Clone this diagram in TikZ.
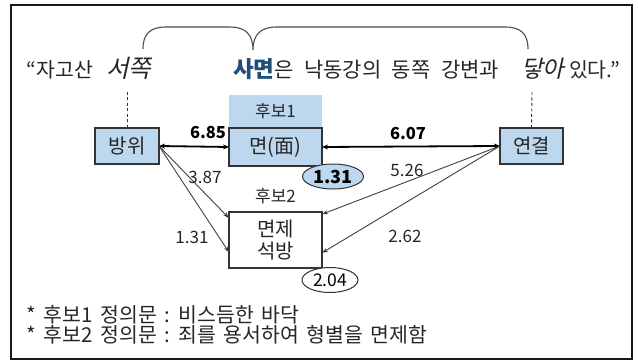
\documentclass[tikz,border=0pt]{standalone}
\usepackage{fontspec}
\setmainfont[WordSpace=1.6]{Noto Sans CJK KR}
\newfontfamily\krit[FakeSlant=0.22]{Noto Sans CJK KR}
\usetikzlibrary{arrows.meta,calc,shapes.geometric}
\definecolor{lblue}{HTML}{BDD7EE}
\definecolor{dblue}{HTML}{1F4E79}
\definecolor{edgec}{HTML}{333333}
\definecolor{linec}{HTML}{404040}
\begin{document}
\begin{tikzpicture}[x=1pt,y=-1pt,
  every node/.style={inner sep=0pt, outer sep=0pt},
  txt/.style={font=\fontsize{20.5}{23}\selectfont, text=black!85},
  lbl/.style={font=\fontsize{17}{20}\selectfont, text=black!85},
  blbl/.style={font=\fontsize{16.5}{20}\selectfont\bfseries, text=black},
  box/.style={draw=edgec, line width=1.1pt, font=\fontsize{20}{22}\selectfont, text=black!85},
  bluebox/.style={box, fill=lblue},
  ell/.style={ellipse, draw=edgec, line width=1pt, font=\fontsize{17.5}{20}\selectfont},
  thick arrow/.style={line width=1.8pt, black, {Stealth[length=6pt,width=5pt]}-{Stealth[length=6pt,width=5pt]}},
  thin arrow/.style={line width=0.9pt, linec, -{Stealth[length=6pt,width=4pt]}},
  dashline/.style={draw=black!80, line width=0.9pt, dashed, dash pattern=on 3pt off 2.5pt},
  bracec/.style={draw=black!70, line width=1.1pt}
]
\useasboundingbox (0,0) rectangle (638,361);
% frame
\draw[line width=2pt, black!90] (11,5) rectangle (632,359);

% sentence
\node[txt, anchor=base west] (t1) at (27,78) {“자고산};
\node[txt, anchor=base west, font=\fontsize{24.5}{27}\krit] (t2) at (106,78) {서쪽};
\node[txt, anchor=base west, font=\fontsize{21}{23}\selectfont] (t3) at (233,78) {{\fontsize{22.5}{24}\selectfont\bfseries\color{dblue}사면}은\hspace{10.5pt}낙동강의\hspace{10.5pt}동쪽\hspace{10.5pt}강변과};
\node[txt, anchor=base west, font=\fontsize{23.5}{25}\krit] (t4) at (521,78) {닿아};
\node[txt, anchor=base west] (t5) at (569,78) {있다.”};

% brace
\coordinate (bl) at (143,49);
\coordinate (bm) at (253,50);
\coordinate (br) at (528,49);
\draw[bracec] (bl) .. controls (143,34) and (150,27) .. (166,27) -- (230,27)
  .. controls (245,27) and (253,34) .. (bm)
  .. controls (253,34) and (261,27) .. (277,27) -- (505,27)
  .. controls (521,27) and (528,34) .. (br);

% nodes
\node[fill=lblue, minimum width=93pt, minimum height=33pt, font=\fontsize{17}{19}\selectfont, text=black!85] (h1) at (275.5,111.5) {후보1};
\node[bluebox, minimum width=64pt, minimum height=36pt] (bw) at (127,146) {방위};
\node[bluebox, minimum width=93pt, minimum height=38pt] (myeon) at (275.5,147) {면(面)};
\node[box, fill=white, minimum width=93pt, minimum height=56pt, align=center, font=\fontsize{20}{22.5}\selectfont] (mj) at (275.5,240) {면제\\석방};
\node[bluebox, minimum width=63pt, minimum height=36pt] (yg) at (531.5,146) {연결};
\node[font=\fontsize{17}{19}\selectfont, text=black!85] (h2) at (275.5,196) {후보2};

% dashed lines
\coordinate (dl) at (127,92);
\coordinate (dr) at (532,92);
\draw[dashline] (dl) -- (bw.north);
\draw[dashline] (dr) -- (yg.north);

% arrows
\draw[thick arrow] (bw.east) -- (myeon.west);
\draw[thick arrow] (yg.west) -- (myeon.east);
\draw[thin arrow] (bw.east) -- ($(mj.north west)!0.11!(mj.south west)$);
\draw[thin arrow] (bw.east) -- ($(mj.north west)!0.72!(mj.south west)$);
\draw[thin arrow] (yg.west) -- ($(mj.north east)!0.04!(mj.south east)$);
\draw[thin arrow] (yg.west) -- ($(mj.north east)!0.73!(mj.south east)$);

% ellipses
\node[ell, fill=lblue, minimum width=61pt, minimum height=25pt, font=\fontsize{18}{20}\selectfont\bfseries] (e1) at (333,176.5) {1.31};
\node[ell, fill=white, minimum width=56pt, minimum height=25pt] (e2) at (330,280) {2.04};

% labels
\node[blbl] (l685) at (208,133) {6.85};
\node[blbl] (l607) at (408,134) {6.07};
\node[lbl] (l387) at (205,177) {3.87};
\node[lbl] (l131) at (192,237) {1.31};
\node[lbl] (l526) at (407,170) {5.26};
\node[lbl] (l262) at (405,236) {2.62};

% footnotes
\node[txt, anchor=base west] (f1) at (27,322.5) {* 후보1 정의문 : 비스듬한 바닥};
\node[txt, anchor=base west] (f2) at (27,342) {* 후보2 정의문 : 죄를 용서하여 형별을 면제함};
\end{tikzpicture}
\end{document}
